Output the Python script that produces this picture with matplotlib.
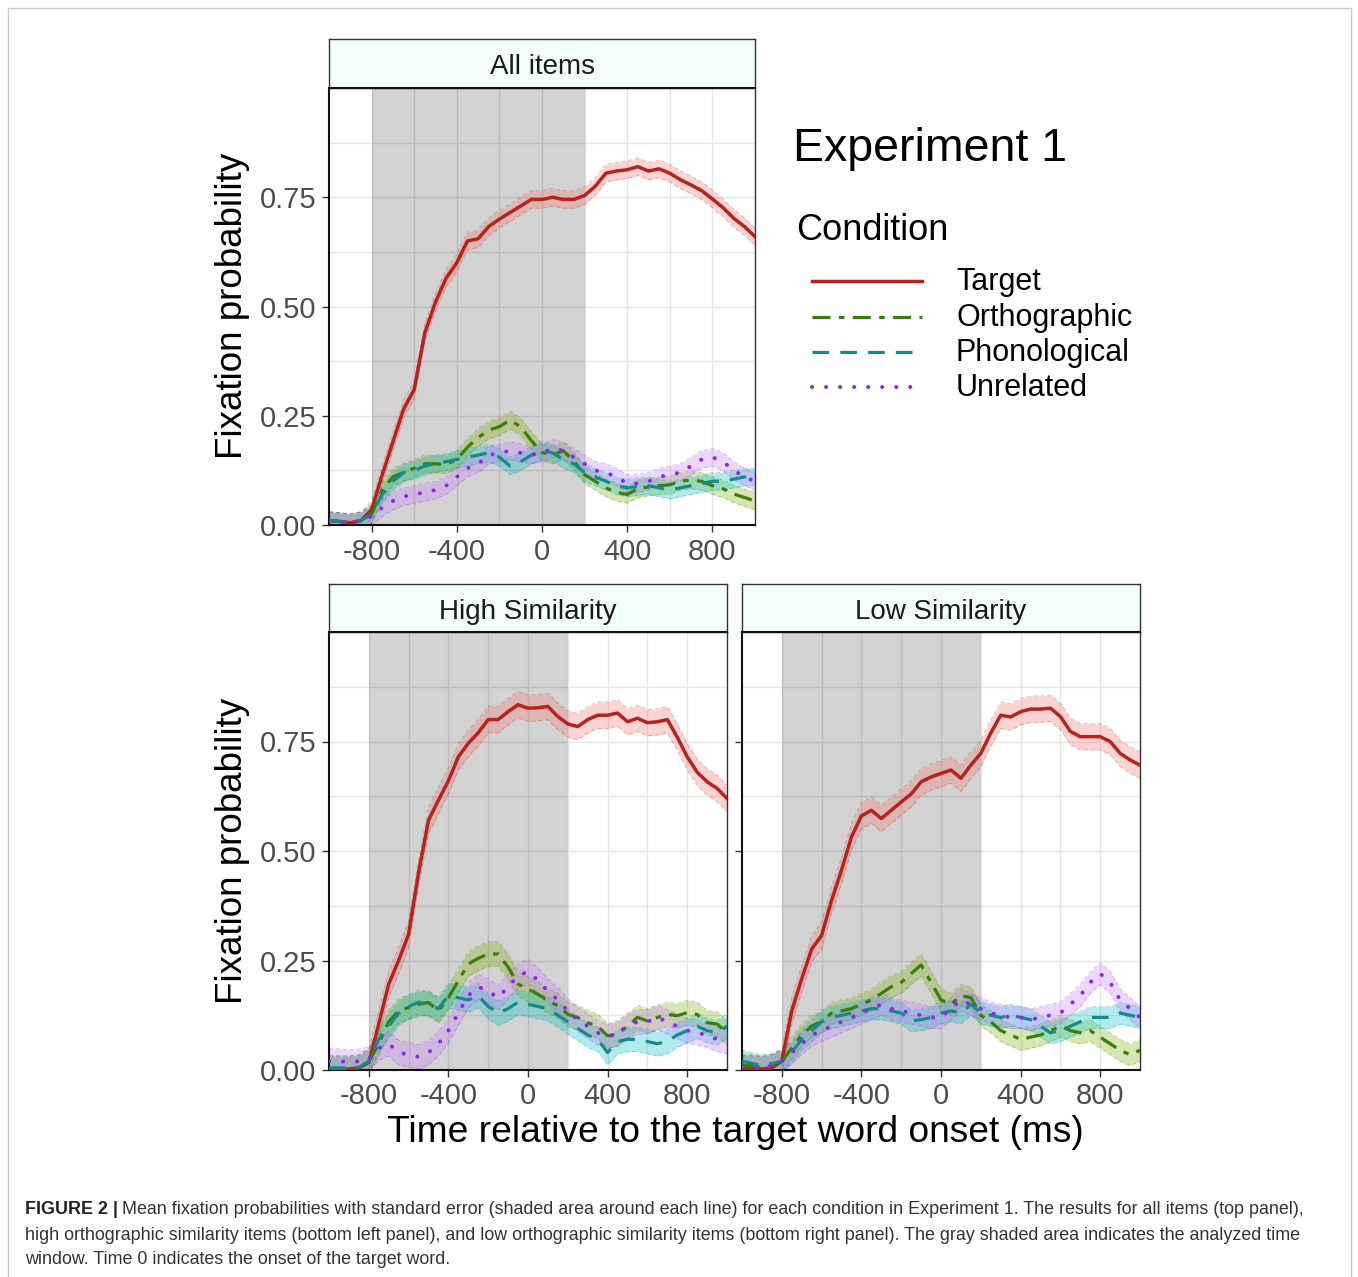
import numpy as np
import matplotlib
matplotlib.use('Agg')
import matplotlib.pyplot as plt
from matplotlib.patches import Rectangle

plt.rcParams['font.family'] = ['Liberation Sans', 'DejaVu Sans']
plt.rcParams['lines.scale_dashes'] = False

# ---------------- data ----------------
time_ms = [-1000, -950, -900, -850, -800, -750, -700, -650, -600, -550, -500,
           -450, -400, -350, -300, -250, -200, -150, -100, -50, 0,
           50, 100, 150, 200, 250, 300, 350, 400, 450, 500,
           550, 600, 650, 700, 750, 800, 850, 900, 950, 1000]

conditions = ['Target', 'Orthographic', 'Phonological', 'Unrelated']
panel_titles = ['All items', 'High Similarity', 'Low Similarity']

all_target = [0.010, 0.008, 0.005, 0.010, 0.035, 0.115, 0.190, 0.265, 0.310, 0.440, 0.510,
              0.565, 0.600, 0.650, 0.655, 0.683, 0.700, 0.715, 0.730, 0.745, 0.745,
              0.750, 0.745, 0.745, 0.754, 0.775, 0.805, 0.810, 0.813, 0.820, 0.810,
              0.815, 0.805, 0.790, 0.778, 0.765, 0.746, 0.726, 0.702, 0.683, 0.660]
all_ortho = [0.010, 0.008, 0.005, 0.010, 0.025, 0.080, 0.110, 0.120, 0.130, 0.140, 0.140,
             0.138, 0.150, 0.178, 0.200, 0.217, 0.225, 0.240, 0.225, 0.193, 0.166,
             0.160, 0.170, 0.146, 0.115, 0.100, 0.085, 0.075, 0.070, 0.083, 0.087,
             0.090, 0.092, 0.100, 0.103, 0.100, 0.090, 0.083, 0.071, 0.063, 0.055]
all_phon = [0.010, 0.008, 0.005, 0.010, 0.025, 0.070, 0.100, 0.120, 0.125, 0.135, 0.140,
            0.145, 0.150, 0.155, 0.160, 0.165, 0.155, 0.135, 0.145, 0.160, 0.170,
            0.165, 0.150, 0.140, 0.120, 0.110, 0.100, 0.090, 0.085, 0.088, 0.090,
            0.085, 0.080, 0.085, 0.090, 0.095, 0.100, 0.100, 0.105, 0.110, 0.110]
all_unrel = [0.010, 0.008, 0.005, 0.010, 0.020, 0.040, 0.055, 0.065, 0.070, 0.075, 0.080,
             0.090, 0.110, 0.130, 0.140, 0.160, 0.165, 0.170, 0.165, 0.160, 0.165,
             0.175, 0.170, 0.155, 0.140, 0.125, 0.120, 0.110, 0.095, 0.095, 0.100,
             0.110, 0.115, 0.120, 0.135, 0.150, 0.155, 0.145, 0.125, 0.110, 0.100]

high_target = [0.002, 0.002, 0.002, 0.005, 0.017, 0.105, 0.196, 0.250, 0.310, 0.450, 0.570,
               0.616, 0.660, 0.715, 0.746, 0.770, 0.800, 0.800, 0.818, 0.834, 0.826,
               0.827, 0.830, 0.807, 0.790, 0.784, 0.800, 0.810, 0.810, 0.815, 0.795,
               0.803, 0.793, 0.795, 0.800, 0.760, 0.715, 0.680, 0.658, 0.643, 0.620]
high_ortho = [0.002, 0.002, 0.002, 0.005, 0.020, 0.060, 0.110, 0.135, 0.143, 0.150, 0.154,
              0.135, 0.165, 0.204, 0.242, 0.255, 0.265, 0.265, 0.235, 0.196, 0.185,
              0.173, 0.158, 0.147, 0.127, 0.120, 0.108, 0.100, 0.078, 0.082, 0.100,
              0.120, 0.112, 0.120, 0.127, 0.124, 0.131, 0.127, 0.108, 0.105, 0.085]
high_phon = [0.005, 0.005, 0.004, 0.006, 0.020, 0.070, 0.100, 0.130, 0.145, 0.155, 0.150,
             0.140, 0.170, 0.165, 0.160, 0.170, 0.145, 0.130, 0.140, 0.155, 0.150,
             0.145, 0.140, 0.125, 0.110, 0.095, 0.080, 0.070, 0.040, 0.065, 0.070,
             0.070, 0.065, 0.060, 0.065, 0.080, 0.090, 0.100, 0.090, 0.085, 0.100]
high_unrel = [0.020, 0.020, 0.018, 0.020, 0.025, 0.050, 0.060, 0.040, 0.035, 0.030, 0.040,
              0.060, 0.090, 0.130, 0.170, 0.190, 0.180, 0.165, 0.190, 0.215, 0.225,
              0.205, 0.180, 0.160, 0.135, 0.115, 0.100, 0.085, 0.075, 0.085, 0.100,
              0.110, 0.110, 0.120, 0.110, 0.100, 0.090, 0.085, 0.080, 0.070, 0.065]

low_target = [0.003, 0.003, 0.002, 0.005, 0.020, 0.135, 0.208, 0.276, 0.307, 0.387, 0.456,
              0.532, 0.580, 0.593, 0.574, 0.593, 0.612, 0.630, 0.658, 0.669, 0.677,
              0.685, 0.666, 0.696, 0.723, 0.769, 0.810, 0.806, 0.818, 0.824, 0.824,
              0.826, 0.807, 0.773, 0.761, 0.761, 0.761, 0.750, 0.723, 0.708, 0.696]
low_ortho = [0.010, 0.010, 0.005, 0.010, 0.020, 0.050, 0.080, 0.100, 0.110, 0.130, 0.135,
             0.140, 0.150, 0.160, 0.175, 0.190, 0.200, 0.220, 0.240, 0.200, 0.160,
             0.150, 0.170, 0.165, 0.125, 0.110, 0.090, 0.080, 0.070, 0.075, 0.080,
             0.090, 0.100, 0.090, 0.085, 0.090, 0.075, 0.060, 0.045, 0.035, 0.045]
low_phon = [0.020, 0.015, 0.010, 0.015, 0.020, 0.040, 0.070, 0.090, 0.110, 0.120, 0.125,
            0.130, 0.135, 0.140, 0.140, 0.135, 0.130, 0.112, 0.115, 0.120, 0.130,
            0.135, 0.130, 0.150, 0.130, 0.125, 0.120, 0.125, 0.120, 0.115, 0.100,
            0.085, 0.090, 0.100, 0.110, 0.120, 0.120, 0.120, 0.130, 0.125, 0.120]
low_unrel = [0.005, 0.005, 0.005, 0.010, 0.020, 0.040, 0.060, 0.080, 0.090, 0.100, 0.110,
             0.120, 0.130, 0.140, 0.150, 0.140, 0.135, 0.130, 0.125, 0.120, 0.120,
             0.140, 0.160, 0.150, 0.140, 0.130, 0.125, 0.120, 0.120, 0.115, 0.120,
             0.125, 0.130, 0.150, 0.170, 0.200, 0.220, 0.200, 0.160, 0.140, 0.120]

# standard error half-widths (per panel, per condition)
all_se = [0.020, 0.020, 0.020, 0.020]
high_se = [0.030, 0.028, 0.028, 0.028]
low_se = [0.030, 0.025, 0.025, 0.025]

window = [-800, 200]
x_major = [-800, -400, 0, 400, 800]
x_minor = [-600, -200, 200, 600]
y_major = [0.00, 0.25, 0.50, 0.75]
y_minor = [0.125, 0.375, 0.625, 0.875]

# ---------------- styles ----------------
line_colors = ['#B5231F', '#3B7D0C', '#158A8C', '#8A2BE2']
fill_colors = ['#F8766D', '#7CAE00', '#00BFC4', '#C77CFF']
line_styles = ['-', (0, (13, 6, 4, 6)), (0, (12, 8)), (0, (0.1, 10))]
line_widths = [2.5, 2.3, 2.3, 2.9]

W, H = 1358, 1277
fig = plt.figure(figsize=(W / 100, H / 100), dpi=100)


def frac(x0, y0, x1, y1):
    return [x0 / W, 1 - y1 / H, (x1 - x0) / W, (y1 - y0) / H]


panels = [
    (panel_titles[0], (329, 88, 755, 525), (329, 39, 755, 88),
     [all_target, all_ortho, all_phon, all_unrel], all_se, True),
    (panel_titles[1], (329, 632, 727, 1070), (329, 584, 727, 632),
     [high_target, high_ortho, high_phon, high_unrel], high_se, True),
    (panel_titles[2], (742, 632, 1140, 1070), (742, 584, 1140, 632),
     [low_target, low_ortho, low_phon, low_unrel], low_se, False),
]

t = np.array(time_ms)
for title, box, sbox, series, ses, ylab in panels:
    ax = fig.add_axes(frac(*box))
    ax.set_xlim(-1000, 1000)
    ax.set_ylim(0, 1)
    ax.set_xticks(x_major)
    ax.set_xticks(x_minor, minor=True)
    ax.set_yticks(y_major)
    ax.set_yticks(y_minor, minor=True)
    ax.set_xticklabels(['%d' % v for v in x_major])
    if ylab:
        ax.set_yticklabels(['%.2f' % v for v in y_major])
    else:
        ax.set_yticklabels([])
    ax.set_axisbelow(True)
    ax.grid(which='both', color='#E5E5E5', lw=1.0)
    ax.tick_params(which='minor', length=0)
    ax.tick_params(which='major', length=5, width=1, color='#333333',
                   labelsize=21, labelcolor='#4D4D4D', pad=4)
    for s in ['left', 'bottom']:
        ax.spines[s].set_color('#111111')
        ax.spines[s].set_linewidth(1.5)
    for s in ['top', 'right']:
        ax.spines[s].set_color('#333333')
        ax.spines[s].set_linewidth(1.0)
    ax.axvspan(window[0], window[1], color='black', alpha=0.175, lw=0, zorder=1)
    for i, vals in enumerate(series):
        v = np.array(vals)
        lo, hi = v - ses[i], v + ses[i]
        ax.fill_between(t, lo, hi, color=fill_colors[i], alpha=0.3, lw=0, zorder=2)
        ax.plot(t, lo, color=line_colors[i], lw=0.6, ls=(0, (3, 2)), alpha=0.35, zorder=2.5)
        ax.plot(t, hi, color=line_colors[i], lw=0.6, ls=(0, (3, 2)), alpha=0.35, zorder=2.5)
    for i, vals in enumerate(series):
        ax.plot(t, vals, color=line_colors[i], lw=line_widths[i], ls=line_styles[i],
                dash_capstyle='round' if i == 3 else 'butt', zorder=3 + i * 0.1)

    sax = fig.add_axes(frac(*sbox))
    sax.set_facecolor('#F2FFF9')
    sax.set_xticks([])
    sax.set_yticks([])
    for s in sax.spines.values():
        s.set_color('#333333')
        s.set_linewidth(1.0)
    sax.spines['bottom'].set_color('#111111')
    sax.spines['bottom'].set_linewidth(1.5)
    sax.text(0.5, 0.42, title, ha='center', va='center', fontsize=20, color='#1A1A1A',
             transform=sax.transAxes)

# ---------------- overlay (pixel coordinates) ----------------
ov = fig.add_axes([0, 0, 1, 1], zorder=10)
ov.set_xlim(0, W)
ov.set_ylim(H, 0)
ov.axis('off')
ov.patch.set_alpha(0)

ov.add_patch(Rectangle((8, 8), 1343, 1300, fill=False, ec='#C8C8C8', lw=1.0))

ov.text(232, 306, 'Fixation probability', rotation=90, ha='center', va='center',
        fontsize=26.5, color='black')
ov.text(232, 851, 'Fixation probability', rotation=90, ha='center', va='center',
        fontsize=26.5, color='black')
ov.text(735, 1133, 'Time relative to the target word onset (ms)', ha='center', va='center',
        fontsize=26.7, color='black')

ov.text(793, 149, 'Experiment 1', ha='left', va='center', fontsize=33.5, color='black')
ov.text(796, 231, 'Condition', ha='left', va='center', fontsize=26, color='black')
leg_y = [281, 317, 352, 387]
for i, name in enumerate(conditions):
    ov.plot([812, 922], [leg_y[i], leg_y[i]], color=line_colors[i], lw=line_widths[i],
            ls=line_styles[i], dash_capstyle='round' if i == 3 else 'butt')
    ov.text(956, leg_y[i] + 1, name, ha='left', va='center', fontsize=22, color='black')

# caption
cap_lines = [
    'Mean fixation probabilities with standard error (shaded area around each line) for each condition in Experiment 1. The results for all items (top panel),',
    'high orthographic similarity items (bottom left panel), and low orthographic similarity items (bottom right panel). The gray shaded area indicates the analyzed time',
    'window. Time 0 indicates the onset of the target word.',
]
cap_y = [1210, 1235, 1260]
cap_fs = 12.9
b = ov.text(25, cap_y[0], 'FIGURE 2 |', ha='left', va='center', fontsize=cap_fs,
            weight='bold', color='#222222')
fig.canvas.draw()
bb = b.get_window_extent()
ov.text(bb.x1 + 4, cap_y[0], cap_lines[0], ha='left', va='center', fontsize=cap_fs, color='#333333')
ov.text(25, cap_y[1], cap_lines[1], ha='left', va='center', fontsize=cap_fs, color='#333333')
ov.text(25, cap_y[2], cap_lines[2], ha='left', va='center', fontsize=cap_fs, color='#333333')

fig.savefig('out.png', dpi=100)
